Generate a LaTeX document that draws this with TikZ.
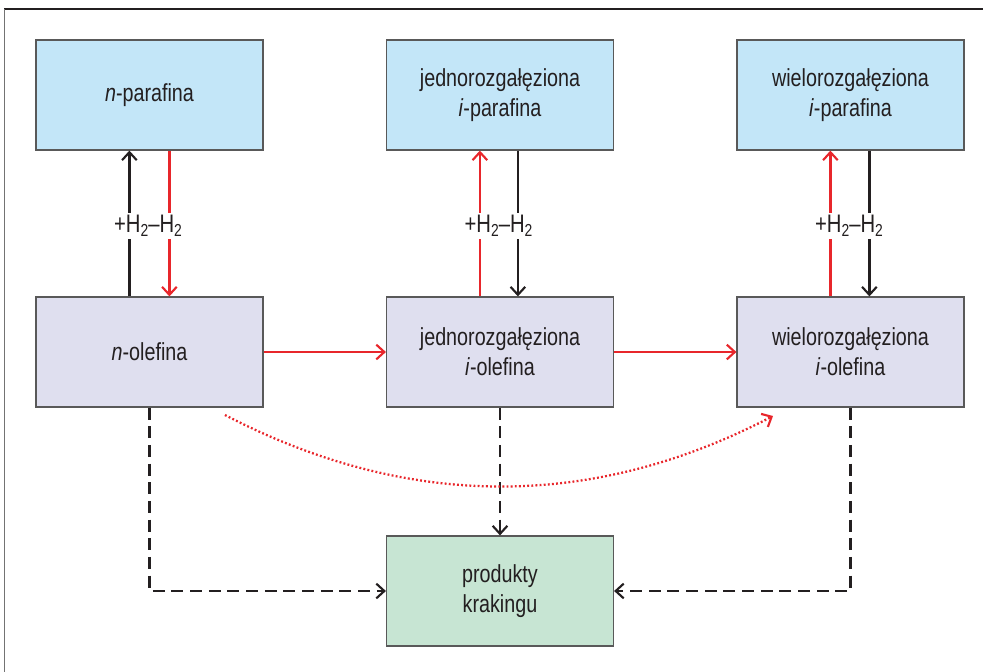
\documentclass[tikz,border=0pt]{standalone}
\usepackage{fontspec}
\setmainfont{Liberation Sans}[FakeStretch=0.8]
\usetikzlibrary{arrows.meta}
\definecolor{pblue}{HTML}{C3E6F8}
\definecolor{plav}{HTML}{DFDFEF}
\definecolor{pgreen}{HTML}{C7E5D3}
\definecolor{pred}{HTML}{E8262B}
\definecolor{ptext}{HTML}{231F20}
\newcommand{\Hs}{H\raisebox{-0.3ex}{\fontsize{13}{13}\selectfont 2}}
\tikzset{
  box/.style={draw=black!65, line width=0.9pt, minimum width=227*0.75pt, minimum height=110*0.75pt,
    align=center, text=ptext, font=\fontsize{18.5}{22.5}\selectfont, inner sep=0pt},
  par/.style={box, fill=pblue},
  ole/.style={box, fill=plav},
  prod/.style={box, fill=pgreen},
  tip/.style={-{Straight Barb[length=6pt, width=11pt, line width=1.6pt]}},
  blk/.style={tip, draw=ptext, line width=1.7pt},
  rd/.style={tip, draw=pred, line width=1.7pt},
  dsh/.style={tip, draw=ptext, line width=2.2pt, dash pattern=on 9pt off 5pt},
  dot/.style={-{Straight Barb[length=6pt, width=11pt, line width=1.6pt]}, draw=pred, line width=1.7pt, dash pattern=on 1.4pt off 1.7pt},
  hlab/.style={fill=white, text=ptext, font=\fontsize{19}{22}\selectfont, inner sep=1.5pt}
}
\begin{document}
\begin{tikzpicture}[x=0.75pt, y=-0.75pt]
\useasboundingbox (0,0) rectangle (983,672);
% frame
\draw[ptext, line width=1.3pt] (4,9) -- (983,9);
\draw[black!55, line width=0.6pt] (4,9) -- (4,672);
% boxes
\node[par] (np) at (149.5,95) {\textit{n}-parafina};
\node[par] (jp) at (500,95) {jednorozgałęziona\\\textit{i}-parafina};
\node[par] (wp) at (850.5,95) {wielorozgałęziona\\\textit{i}-parafina};
\node[ole] (no) at (149.5,352) {\textit{n}-olefina};
\node[ole] (jo) at (500,352) {jednorozgałęziona\\\textit{i}-olefina};
\node[ole] (wo) at (850.5,352) {wielorozgałęziona\\\textit{i}-olefina};
\node[prod] (pk) at (500,591) {produkty\\krakingu};
% vertical H2 arrows
\draw[blk] (no.south west |- no.north) ++(94,0) coordinate (a1) -- (a1 |- np.south);
\draw[rd] (np.south west) ++(134,0) coordinate (a2) -- (a2 |- no.north);
\draw[rd] (jo.north west) ++(94,0) coordinate (b1) -- (b1 |- jp.south);
\draw[blk] (jp.south west) ++(132,0) coordinate (b2) -- (b2 |- jo.north);
\draw[rd] (wo.north west) ++(94,0) coordinate (c1) -- (c1 |- wp.south);
\draw[blk] (wp.south west) ++(133,0) coordinate (c2) -- (c2 |- wo.north);
\node[hlab] (h1) at (148,226) {+\Hs–\Hs};
\node[hlab] (h2) at (498.5,226) {+\Hs–\Hs};
\node[hlab] (h3) at (849,226) {+\Hs–\Hs};
% horizontal red
\draw[rd] (no) -- (jo);
\draw[rd] (jo) -- (wo);
% dashed to products
\draw[dsh] (no.south) |- (pk.west);
\draw[dsh] (jo.south) -- (pk.north);
\draw[dsh] (wo.south) |- (pk.east);
% dotted curve
\coordinate (d0) at (225,415);
\coordinate (d1) at (773,416);
\draw[dot] (d0) .. controls (408,510) and (592,510) .. (d1);
\end{tikzpicture}
\end{document}
